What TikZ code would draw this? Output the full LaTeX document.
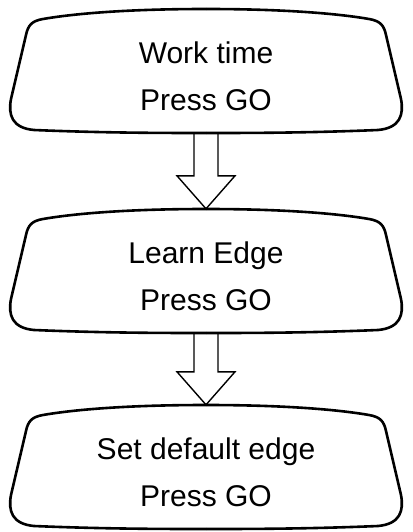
\documentclass[tikz,border=0pt]{standalone}
\usepackage{fontspec}
\setmainfont{Liberation Sans}
\usetikzlibrary{calc}

\tikzset{
  stepbox/.style={minimum width=392pt, minimum height=124pt, inner sep=0pt,
    align=center, font=\fontsize{30}{47}\selectfont, text height=80pt},
  boxline/.style={line width=2.6pt, line join=round},
  arrowline/.style={line width=1.4pt, line join=miter}
}

\newcommand{\blockarrow}[2]{%
  \draw[arrowline] let \p1=(#1.south), \p2=(#2.north) in
    (\x1-12pt,\y1) -- (\x1-12pt,\y2+33pt) -- (\x1-29pt,\y2+33pt) -- (\x2,\y2)
    -- (\x1+29pt,\y2+33pt) -- (\x1+12pt,\y2+33pt) -- (\x1+12pt,\y1);}

\begin{document}
\begin{tikzpicture}[x=1pt,y=-1pt]
  \useasboundingbox (0,0) rectangle (412,532);

  \node[stepbox] (work)    at (206,71)  {Work time\\Press GO};
  \node[stepbox] (learn)   at (206,271) {Learn Edge\\Press GO};
  \node[stepbox] (default) at (206,467) {Set default edge\\Press GO};

  % hollow arrows between the screens
  \blockarrow{work}{learn}
  \blockarrow{learn}{default}

  % screen outlines, drawn as two mirrored halves
  \foreach \n in {work,learn,default}
    \foreach \s in {1,-1}
      \draw[boxline,shift={(\n.center)},xscale=\s]
        (0,-62) .. controls (-90,-62) and (-140,-56) .. (-163,-52)
        .. controls (-175,-50) and (-178,-45) .. (-180,-36)
        -- (-195,28)
        .. controls (-198,44) and (-194,57) .. (-172,59)
        .. controls (-100,62) and (-40,62) .. (0,62);
\end{tikzpicture}
\end{document}
